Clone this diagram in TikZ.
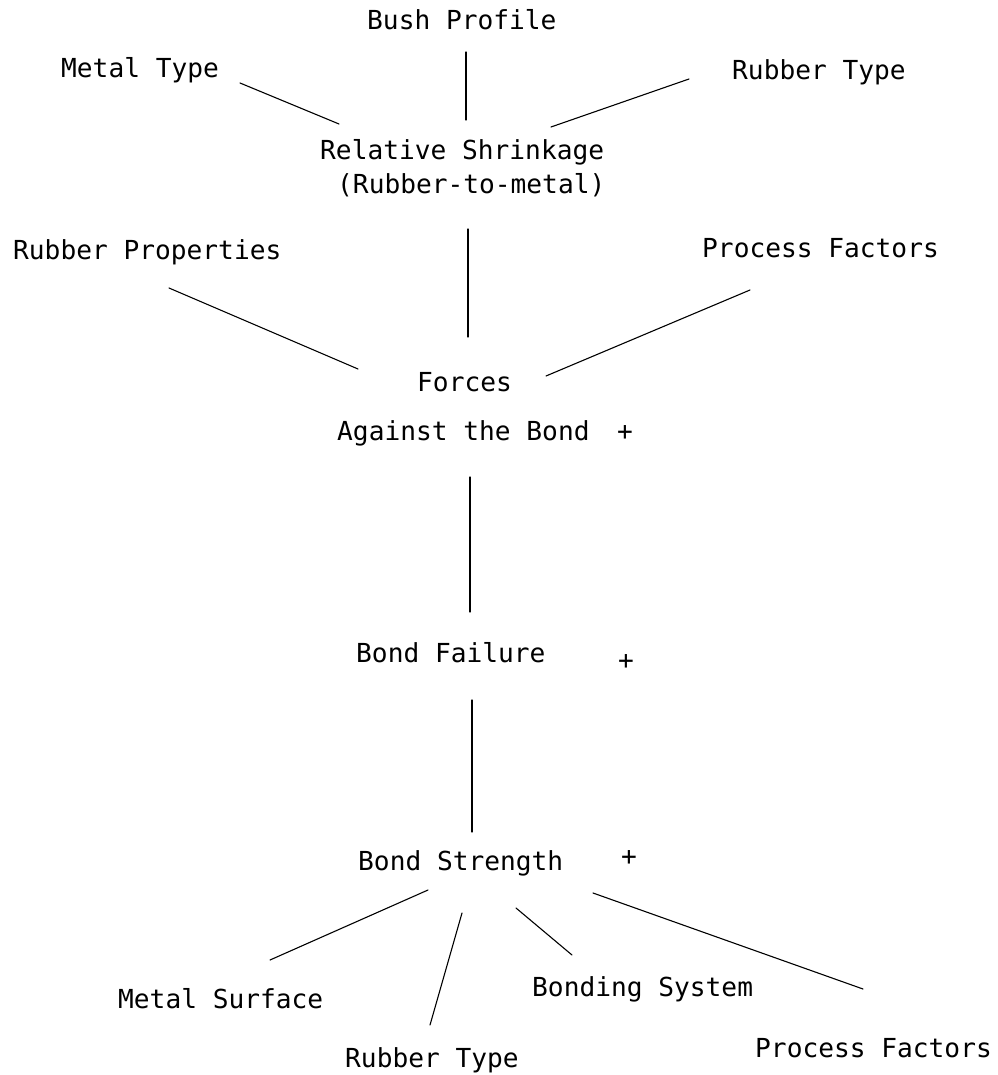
\documentclass[tikz,border=0pt]{standalone}
\usepackage{fontspec}
\setmonofont{DejaVu Sans Mono}
\begin{document}
\begin{tikzpicture}[x=1pt,y=-1pt,
  lbl/.style={font=\fontsize{26.2}{30}\selectfont\ttfamily, inner sep=0pt, anchor=base west},
  plus/.style={font=\fontsize{26.2}{30}\selectfont\ttfamily, inner sep=0pt, anchor=center},
  con/.style={line width=1.1pt, line cap=round}]
\useasboundingbox[fill=white] (0,0) rectangle (997,1075);
% labels
\node[lbl] (bush) at (367,30) {Bush Profile};
\node[lbl] (mtype) at (61,78) {Metal Type};
\node[lbl] (rtype) at (732,80) {Rubber Type};
\node[lbl] (rel) at (320,160) {Relative Shrinkage};
\node[lbl] (rel2) at (337,194) {(Rubber-to-metal)};
\node[lbl] (rprop) at (13,259) {Rubber Properties};
\node[lbl] (pf1) at (702,258) {Process Factors};
\node[lbl] (forces) at (417,391) {Forces};
\node[lbl] (against) at (337,440) {Against the Bond};
\node[plus] (p1) at (625,433) {+};
\node[lbl] (fail) at (356,662) {Bond Failure};
\node[plus] (p2) at (626,662) {+};
\node[lbl] (strength) at (358,870) {Bond Strength};
\node[plus] (p3) at (629,858) {+};
\node[lbl] (msurf) at (118,1008) {Metal Surface};
\node[lbl] (rtype2) at (345,1067) {Rubber Type};
\node[lbl] (bsys) at (532,996) {Bonding System};
\node[lbl] (pf2) at (755,1057) {Process Factors};
% connector end points
\coordinate (c1a) at (466,52);  \coordinate (c1b) at (466,120);
\coordinate (c2a) at (240,83);  \coordinate (c2b) at (339,124);
\coordinate (c3a) at (689,79);  \coordinate (c3b) at (551,127);
\coordinate (c4a) at (468,229); \coordinate (c4b) at (468,337);
\coordinate (c5a) at (169,288); \coordinate (c5b) at (358,369);
\coordinate (c6a) at (750,290); \coordinate (c6b) at (546,376);
\coordinate (c7a) at (470,477); \coordinate (c7b) at (470,612);
\coordinate (c8a) at (472,700); \coordinate (c8b) at (472,832);
\coordinate (c9a) at (428,890); \coordinate (c9b) at (270,960);
\coordinate (c10a) at (462,913); \coordinate (c10b) at (430,1025);
\coordinate (c11a) at (516,908); \coordinate (c11b) at (572,955);
\coordinate (c12a) at (593,893); \coordinate (c12b) at (863,989);
% connectors
\draw[con] (c1a) -- (c1b);
\draw[con] (c2a) -- (c2b);
\draw[con] (c3a) -- (c3b);
\draw[con] (c4a) -- (c4b);
\draw[con] (c5a) -- (c5b);
\draw[con] (c6a) -- (c6b);
\draw[con] (c7a) -- (c7b);
\draw[con] (c8a) -- (c8b);
\draw[con] (c9a) -- (c9b);
\draw[con] (c10a) -- (c10b);
\draw[con] (c11a) -- (c11b);
\draw[con] (c12a) -- (c12b);
\end{tikzpicture}
\end{document}
